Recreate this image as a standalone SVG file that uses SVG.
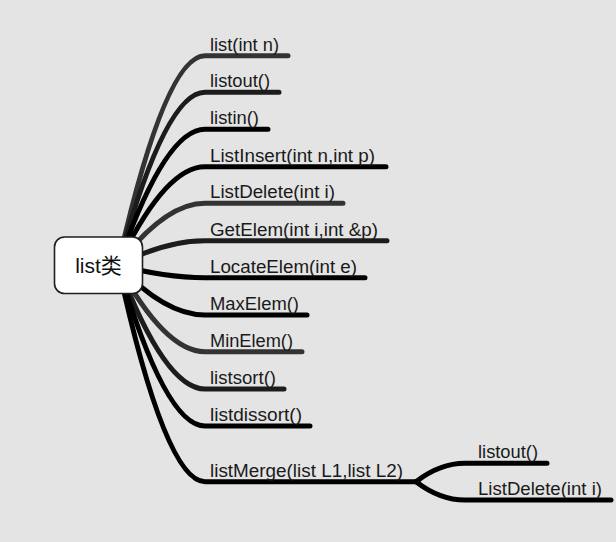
<svg xmlns="http://www.w3.org/2000/svg" width="616" height="542" viewBox="0 0 616 542">
<style>
.c{fill:none;stroke-width:5;stroke-linecap:round;stroke-linejoin:round}
.k{stroke:#000}
.g{stroke:#333}
.d{stroke:#1c1c1c}
.t{font-family:"Liberation Sans",Arial,sans-serif;font-size:17.5px;fill:#1a1a1a}
.root{fill:#fff;stroke:#1e1e1e;stroke-width:1.6}
.rt{font-family:"Liberation Sans","Noto Sans CJK SC",sans-serif;font-size:21px;fill:#111}
</style>
<rect width="616" height="542" fill="#e4e4e4"/>
<g id="connectors">
<path class="c g" d="M118,265 Q165,55.7 205,55.7 L288,55.7"/>
<path class="c d" d="M118,265 Q165,92.3 205,92.3 L279,92.3"/>
<path class="c k" d="M118,265 Q165,129.3 205,129.3 L268,129.3"/>
<path class="c k" d="M118,265 Q165,166.7 205,166.7 L386,166.7"/>
<path class="c g" d="M118,265 Q165,203.3 205,203.3 L343,203.3"/>
<path class="c d" d="M118,265 Q165,240.7 205,240.7 L387,240.7"/>
<path class="c k" d="M118,265 Q165,277.7 205,277.7 L365,277.7"/>
<path class="c k" d="M118,265 Q165,315 205,315 L307,315"/>
<path class="c g" d="M118,265 Q165,351.7 205,351.7 L302,351.7"/>
<path class="c d" d="M118,265 Q165,389 205,389 L284,389"/>
<path class="c k" d="M118,265 Q165,426 205,426 L310,426"/>
<path class="c k" d="M118,265 Q165,481.7 205,481.7 L418,481.7"/>
<path class="c k" d="M416,481.7 Q440,463.3 465,463.3 L547,463.3"/>
<path class="c k" d="M416,481.7 Q440,500 465,500 L611,500"/>
</g>
<g id="root">
<rect class="root" x="54.5" y="237" width="88" height="56.5" rx="10"/>
<text class="rt" x="98.5" y="273" text-anchor="middle">list类</text>
</g>
<g id="n1"><text class="t" x="210" y="50.7" textLength="69" lengthAdjust="spacingAndGlyphs">list(int n)</text></g>
<g id="n2"><text class="t" x="210" y="87.3" textLength="60" lengthAdjust="spacingAndGlyphs">listout()</text></g>
<g id="n3"><text class="t" x="210" y="124.3" textLength="49" lengthAdjust="spacingAndGlyphs">listin()</text></g>
<g id="n4"><text class="t" x="210" y="161.7" textLength="165" lengthAdjust="spacingAndGlyphs">ListInsert(int n,int p)</text></g>
<g id="n5"><text class="t" x="210" y="198.3" textLength="125" lengthAdjust="spacingAndGlyphs">ListDelete(int i)</text></g>
<g id="n6"><text class="t" x="210" y="235.7" textLength="168" lengthAdjust="spacingAndGlyphs">GetElem(int i,int &amp;p)</text></g>
<g id="n7"><text class="t" x="210" y="272.7" textLength="147" lengthAdjust="spacingAndGlyphs">LocateElem(int e)</text></g>
<g id="n8"><text class="t" x="210" y="310" textLength="89" lengthAdjust="spacingAndGlyphs">MaxElem()</text></g>
<g id="n9"><text class="t" x="210" y="346.7" textLength="83" lengthAdjust="spacingAndGlyphs">MinElem()</text></g>
<g id="n10"><text class="t" x="210" y="384" textLength="66" lengthAdjust="spacingAndGlyphs">listsort()</text></g>
<g id="n11"><text class="t" x="210" y="421" textLength="92" lengthAdjust="spacingAndGlyphs">listdissort()</text></g>
<g id="n12"><text class="t" x="210" y="476.7" textLength="193" lengthAdjust="spacingAndGlyphs">listMerge(list L1,list L2)</text></g>
<g id="n13"><text class="t" x="478" y="458.3" textLength="60" lengthAdjust="spacingAndGlyphs">listout()</text></g>
<g id="n14"><text class="t" x="478" y="495" textLength="124" lengthAdjust="spacingAndGlyphs">ListDelete(int i)</text></g>
</svg>
